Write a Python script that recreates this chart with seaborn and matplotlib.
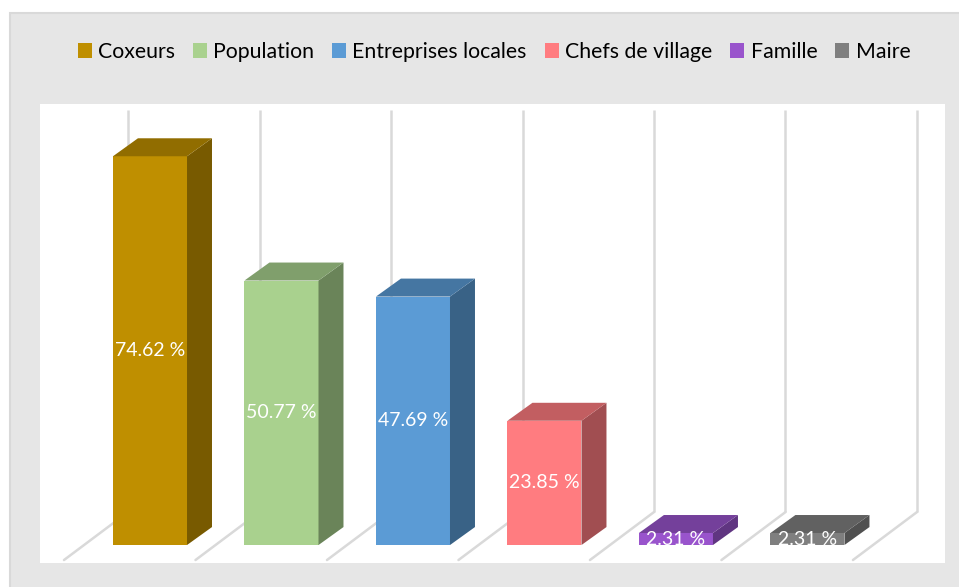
import matplotlib
matplotlib.use("Agg")
import matplotlib.pyplot as plt
import seaborn as sns
import pandas as pd
from matplotlib.patches import Polygon, Rectangle, Patch
from matplotlib.colors import to_rgb

categories = ["Coxeurs", "Population", "Entreprises locales", "Chefs de village", "Famille", "Maire"]
values = [74.62, 50.77, 47.69, 23.85, 2.31, 2.31]
labels = ["74.62 %", "50.77 %", "47.69 %", "23.85 %", "2.31 %", "2.31 %"]
colors = ["#BF8F00", "#A9D18E", "#5B9BD5", "#FF7C80", "#9954CC", "#7F7F7F"]

sns.set_style("white")
plt.rcParams['font.family'] = ['Lato', 'DejaVu Sans']

W, H = 959, 587
fig = plt.figure(figsize=(W / 100, H / 100), dpi=100)
fig.patch.set_facecolor("white")
fig.patches.append(Rectangle((10 / W, -0.01), 1.0, 1 - 13 / H + 0.01, transform=fig.transFigure,
                             facecolor="#e6e6e6", edgecolor="#d9d9d9", lw=1.5, zorder=-5))

ax = fig.add_axes([40 / W, (H - 563) / H, (945 - 40) / W, (563 - 104) / H])
ax.set_zorder(2)
ax.set_facecolor("white")

df = pd.DataFrame({"cat": categories, "val": values})
bw = 0.563
sns.barplot(data=df, x="cat", y="val", hue="cat", palette=colors, width=bw,
            saturation=1, legend=False, ax=ax, zorder=3, linewidth=0)

dx, dy = 0.19, 3.45
def shade(c, f):
    r, g, b = to_rgb(c)
    return (r * f, g * f, b * f)

for i, (v, c) in enumerate(zip(values, colors)):
    xl, xr = i - bw / 2, i + bw / 2
    side = Polygon([(xr, 0), (xr + dx, dy), (xr + dx, v + dy), (xr, v)], closed=True,
                   facecolor=shade(c, 0.63), edgecolor="none", zorder=3)
    top = Polygon([(xl, v), (xl + dx, v + dy), (xr + dx, v + dy), (xr, v)], closed=True,
                  facecolor=shade(c, 0.76), edgecolor="none", zorder=3)
    ax.add_patch(side)
    ax.add_patch(top)
    ax.text(i, v / 2, labels[i], ha="center", va="center", color="white", fontsize=14, zorder=5)

# back wall / floor lines
back_lo, back_hi, front_y, fdx = 6.33, 83.5, -2.88, 0.487
for k in range(len(categories) + 1):
    b = -0.167 + k
    ax.plot([b, b], [back_lo, back_hi], color="#d9d9d9", lw=1.8, zorder=1, solid_capstyle="butt")
    ax.plot([b, b - fdx], [back_lo, front_y], color="#d9d9d9", lw=1.8, zorder=1)

ax.set_xlim(-0.8365, 6.046)
ax.set_ylim(-3.45, 84.65)
ax.set_xticks([])
ax.set_yticks([])
ax.set_xlabel("")
ax.set_ylabel("")
for s in ax.spines.values():
    s.set_visible(False)

handles = [Patch(facecolor=c, edgecolor="none", label=l) for c, l in zip(colors, categories)]
leg = fig.legend(handles=handles, ncol=6, loc="center", bbox_to_anchor=(494 / W, 1 - 52 / H),
                 frameon=False, handlelength=0.65, handleheight=0.65, handletextpad=0.3,
                 columnspacing=0.85, fontsize=15.3)
for t in leg.get_texts():
    t.set_color("black")

fig.savefig("out.png", dpi=100, facecolor=fig.get_facecolor())
